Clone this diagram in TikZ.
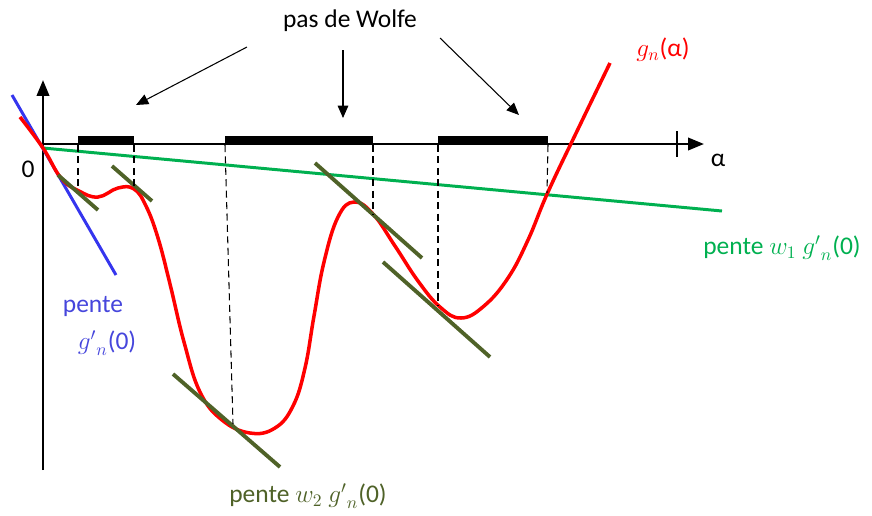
\documentclass[tikz,border=0pt]{standalone}
\usepackage{fontspec}
\setmainfont{Carlito}
\usepackage{tikz}
\usetikzlibrary{arrows.meta,positioning}
\definecolor{courbe}{HTML}{FF0000}
\definecolor{vertw}{HTML}{00B050}
\definecolor{bleuw}{HTML}{3535EE}
\definecolor{bleutxt}{HTML}{4646DC}
\definecolor{kaki}{HTML}{4F6228}
\tikzset{
  axe/.style={line width=1.4pt, -{Triangle[length=9pt,width=7pt]}},
  rappel/.style={line width=0.6pt, dash pattern=on 4pt off 2.5pt},
  tangente/.style={line width=2.2pt, color=kaki},
  fleche/.style={-{Triangle[length=7pt,width=6pt]}, line width=0.6pt},
  etiquette/.style={font=\fontsize{14.5}{17}\selectfont, text=#1, inner sep=1pt},
  etiquette/.default=black,
}

\begin{document}
\begin{tikzpicture}[x=0.02cm, y=-0.02cm]
  \useasboundingbox (0,0) rectangle (872,515);

  % axes
  \draw[axe] (43,470) -- (43,80);
  \draw[axe] (43,144) -- (704,144);
  \draw[line width=1.4pt] (677,131) -- (677,157);

  % pas de Wolfe
  \fill (78,136) rectangle (134,145);
  \fill (225,136) rectangle (373,145);
  \fill (438,136) rectangle (548,145);

  \coordinate (t1) at (78,190);
  \coordinate (t2) at (134,188);
  \coordinate (t3) at (233,424);
  \coordinate (t4) at (373,214);
  \coordinate (t5) at (438,306);
  \coordinate (t6) at (547,193);

  \draw[vertw, line width=1.7pt] (43,148) -- (722,211);
  \draw[bleuw, line width=1.7pt] (12,95) -- (116,275);

  \draw[courbe, line width=2pt] plot[smooth, tension=0.7] coordinates {
    (20,117) (43,148) (61,178) (79,191) (98,197) (118,188) (134,189)
    (146,206) (158,238) (170,284) (184,342) (200,392) (222,420)
    (250,433) (275,428) (293,406) (305,368) (314,316) (324,262)
    (338,217) (354,202) (373,214) (395,246) (418,281) (440,307)
    (461,318) (484,306) (508,278) (528,240) (548,192) (579,127)
    (610,63)};

  \draw[tangente] (t1) ++(-20,-15) -- ++(40,35);
  \draw[tangente] (t2) ++(-22,-22) -- ++(40,35);
  \draw[tangente] (t3) ++(-60,-50) -- ++(107,93);
  \draw[tangente] (t4) ++(-58,-51) -- ++(107,95);
  \draw[tangente] (t5) ++(-55,-44) -- ++(107,95);

  \draw[rappel] (78,145) -- (t1);
  \draw[rappel] (134,145) -- (t2);
  \draw[rappel] (225,145) -- (t3);
  \draw[rappel] (373,145) -- (t4);
  \draw[rappel] (438,145) -- (t5);
  \draw[rappel] (548,145) -- (t6);

  \node[etiquette] (wolfe) at (350,21) {pas de Wolfe};
  \coordinate (a1) at (247,47);
  \coordinate (a2) at (343,50);
  \coordinate (a3) at (440,38);
  \coordinate (c1) at (136,105);
  \coordinate (c2) at (343,118);
  \coordinate (c3) at (519,115);
  \draw[fleche] (a1) -- (c1);
  \draw[fleche] (a2) -- (c2);
  \draw[fleche] (a3) -- (c3);

  \node[etiquette] (alpha) at (718,160) {α};
  \node[etiquette] (zero) at (28,169) {0};
  \node[etiquette=courbe] (gn) at (663,50) {$g_n$(α)};
  \node[etiquette=vertw] (pentev) at (782,248) {pente $w_1$ ${g'}_n$(0)};
  \node[etiquette=bleutxt] (penteb) at (93,306) {pente};
  \node[etiquette=bleutxt, below=6pt of penteb, xshift=8pt] (gb) {${g'}_n$(0)};
  \node[etiquette=kaki] (pentek) at (308,496) {pente $w_2$ ${g'}_n$(0)};
\end{tikzpicture}
\end{document}
